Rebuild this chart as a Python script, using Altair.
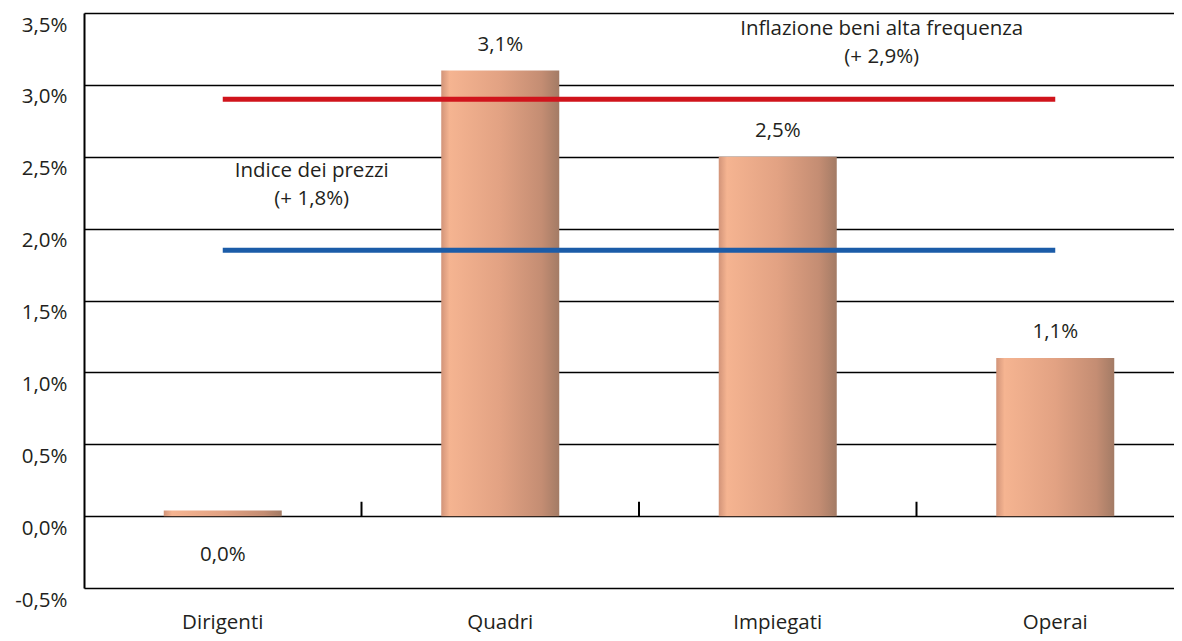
import altair as alt
import pandas as pd

# ---- data ----
categories = ["Dirigenti", "Quadri", "Impiegati", "Operai"]
values = [0.04, 3.1, 2.5, 1.1]           # % change; Dirigenti shown as 0,0%
y_ticks = [-0.5, 0.0, 0.5, 1.0, 1.5, 2.0, 2.5, 3.0, 3.5]

line_names = ["Inflazione beni alta frequenza", "Indice dei prezzi"]
line_levels = [2.9, 1.85]
line_labels = [["Inflazione beni alta frequenza", "(+ 2,9%)"],
               ["Indice dei prezzi", "(+ 1,8%)"]]

FONT = "Open Sans"
FS = 20.5
TXT = "#231f20"

bars_df = pd.DataFrame({"categoria": categories, "valore": values})
sep_df = pd.DataFrame({"categoria": categories[1:]})
lines_df = pd.DataFrame({"serie": line_names, "livello": line_levels,
                         "da": [categories[0]] * 2, "a": [categories[-1]] * 2})

x_scale = alt.Scale(domain=categories, range=[0, 1110], paddingInner=0, paddingOuter=0)
y_scale = alt.Scale(domain=[-0.5, 3.5], nice=False, zero=False)

gradient = alt.Gradient(
    gradient="linear", x1=0, x2=1, y1=0, y2=0,
    stops=[
        alt.GradientStop(offset=0.0, color="#d29479"),
        alt.GradientStop(offset=0.07, color="#f5b491"),
        alt.GradientStop(offset=0.5, color="#e2a283"),
        alt.GradientStop(offset=0.85, color="#c48d73"),
        alt.GradientStop(offset=1.0, color="#a37b65"),
    ],
)

x_enc = alt.X("categoria:N", scale=x_scale, sort=categories,
              axis=alt.Axis(title=None, domain=False, ticks=False, labelAngle=0,
                            labelFont=FONT, labelFontSize=FS, labelColor=TXT,
                            labelBaseline="middle", labelPadding=34))
y_enc = alt.Y("valore:Q", scale=y_scale,
              axis=alt.Axis(title=None, values=y_ticks, grid=True, gridColor="#000000",
                            gridWidth=1.6, domain=True, domainColor="#000000", domainWidth=2,
                            ticks=False, labelFont=FONT, labelFontSize=FS, labelColor=TXT,
                            labelPadding=17, labelOffset=12, labelBaseline="middle",
                            labelExpr="replace(replace(format(datum.value, '.1f'), '.', ','), '\u2212', '-') + '%'"))

bars = alt.Chart(bars_df).mark_bar(size=118, color=gradient).encode(x=x_enc, y=y_enc)

label_expr = "replace(format(datum.valore, '.1f'), '.', ',') + '%'"
labels_up = alt.Chart(bars_df).transform_filter("datum.valore >= 0.5").transform_calculate(
    lab=label_expr).mark_text(font=FONT, fontSize=FS, color=TXT, baseline="middle", dy=-26
).encode(x=alt.X("categoria:N", sort=categories), y="valore:Q", text="lab:N")
labels_down = alt.Chart(bars_df).transform_filter("datum.valore < 0.5").transform_calculate(
    lab=label_expr).mark_text(font=FONT, fontSize=FS, color=TXT, baseline="middle", dy=45
).encode(x=alt.X("categoria:N", sort=categories), y="valore:Q", text="lab:N")

seps = alt.Chart(sep_df).mark_rule(color="#000000", strokeWidth=2).encode(
    x=alt.X("categoria:N", sort=categories, bandPosition=0),
    y=alt.datum(0.0), y2=alt.datum(0.1))

lines = alt.Chart(lines_df).mark_rule(strokeWidth=5).encode(
    x=alt.X("da:N", sort=categories),
    x2="a:N",
    y=alt.Y("livello:Q"),
    color=alt.Color("serie:N", scale=alt.Scale(domain=line_names,
                                               range=["#d0141c", "#1b5ca8"]),
                    legend=None))

ann_red = alt.Chart(alt.Data(values=[{}])).mark_text(
    font=FONT, fontSize=FS, color=TXT, lineHeight=28, baseline="middle", dx=104
).encode(x=alt.datum(categories[2]), y=alt.datum(3.39), text=alt.value(line_labels[0]))
ann_blue = alt.Chart(alt.Data(values=[{}])).mark_text(
    font=FONT, fontSize=FS, color=TXT, lineHeight=28, baseline="middle", dx=89
).encode(x=alt.datum(categories[0]), y=alt.datum(2.40), text=alt.value(line_labels[1]))

chart = alt.layer(bars, seps, lines, labels_up, labels_down, ann_red, ann_blue).properties(
    width=1090, height=575,
    autosize=alt.AutoSizeParams(type="none"),
    padding={"left": 76, "top": 5, "right": 0, "bottom": 48},
).configure_view(stroke=None).configure(background="#ffffff")

chart.save("out.html", embed_options={"renderer": "svg", "actions": False})
